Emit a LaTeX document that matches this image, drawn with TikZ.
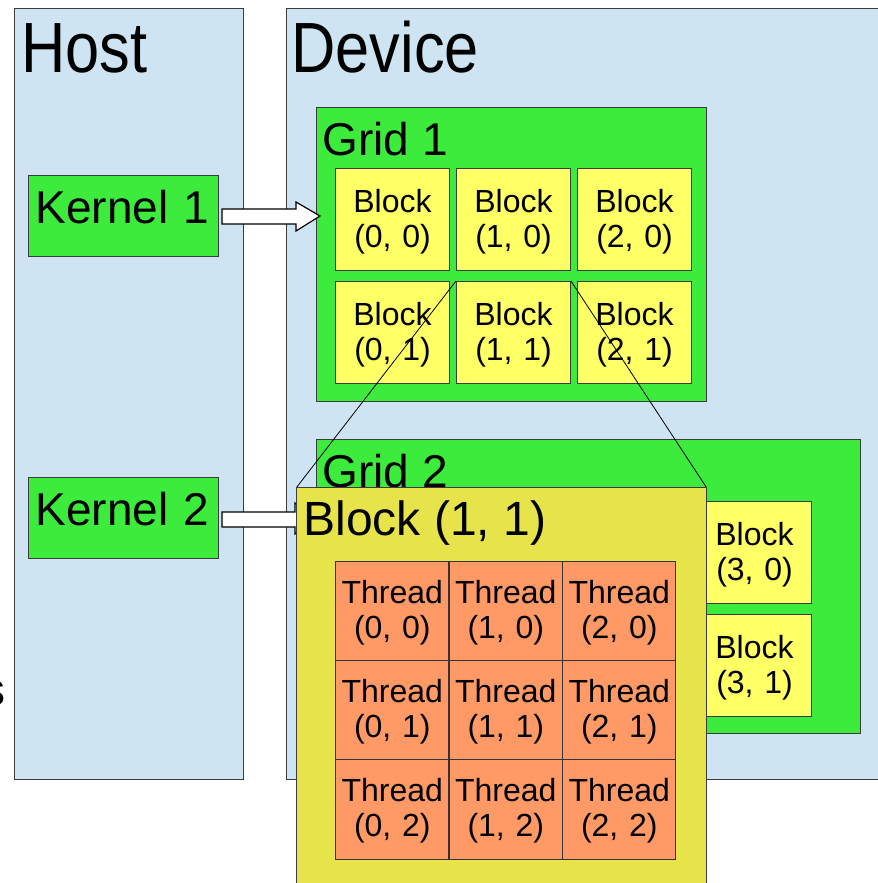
\documentclass[tikz,border=0pt]{standalone}
\usepackage{fontspec}
\setmainfont{Liberation Sans}
\usetikzlibrary{positioning}

\definecolor{hostblue}{HTML}{CFE4F2}
\definecolor{gridgreen}{HTML}{3DEB3D}
\definecolor{blockyellow}{HTML}{FFFF66}
\definecolor{bigyellow}{HTML}{E6E34B}
\definecolor{threadorange}{HTML}{FF9966}
\definecolor{edgegray}{HTML}{3C3C3C}

\newcommand{\cellfont}{\fontsize{24}{26.25}\selectfont}
\newcommand{\bigfont}{\fontsize{34.5}{41}\selectfont}
\newcommand{\titlefont}{\fontsize{46}{56}\selectfont}
\newcommand{\tall}[1]{\scalebox{1}[1.16]{#1}}

\begin{document}
\begin{tikzpicture}[x=0.75pt, y=-0.75pt, line width=0.75pt,
        panel/.style={draw=edgegray, fill=hostblue},
        grid_box/.style={draw=edgegray, fill=gridgreen},
        kernel/.style={draw=edgegray, fill=gridgreen, inner xsep=5.25pt, inner ysep=0pt,
            text width=132pt, align=left, text height=36pt, text depth=24.75pt, font=\bigfont},
        blk/.style={draw=edgegray, fill=blockyellow, inner sep=0pt, align=center,
            text width=85.5pt, text height=33pt, text depth=43.5pt, font=\cellfont},
        big_blk/.style={draw=edgegray, fill=bigyellow, inner sep=0pt,
            minimum width=306.75pt, minimum height=309pt},
        thread/.style={draw=black!80, fill=threadorange, inner sep=0pt, align=center,
            text width=85.1pt, text height=31.5pt, text depth=43.5pt, font=\cellfont},
        label_text/.style={anchor=base west, inner sep=0pt, font=\bigfont},
        title_text/.style={anchor=base west, inner sep=0pt, font=\titlefont},
        arrow_style/.style={draw=black, fill=white, line width=0.9pt, line join=miter},
        edge_style/.style={draw=black, line width=0.6pt}]
        \useasboundingbox (0,0) rectangle (878,883);

        % host and device
        \draw[panel] (14,8) rectangle (243,779);
        \draw[panel] (286,8) rectangle (884,779);
        \node[title_text] (host) at (21,72) {\tall{Host}};
        \node[title_text] (device) at (291,72) {\tall{Device}};
        \node[anchor=base east, inner sep=0pt, font=\bigfont] (cut) at (6,705) {s};

        \node[kernel, anchor=north west] (k1) at (28,175) {Kernel 1};
        \node[kernel, anchor=north west] (k2) at (28,477) {Kernel 2};

        % grid 1
        \draw[grid_box] (316,107) rectangle (706,401);
        \node[label_text] (g1) at (322,155) {Grid 1};
        \foreach \col in {0,1,2}
          \foreach \row in {0,1}
            \node[blk, anchor=north west] (blk\col\row) at (335+121*\col, 168+113*\row) {Block\\(\col, \row)};

        % grid 2
        \draw[grid_box] (316,439) rectangle (860,733);
        \node[label_text] (g2) at (322,487) {Grid 2};
        \node[blk, anchor=north west] (blk30) at (697,501) {Block\\(3, 0)};
        \node[blk, anchor=north west] (blk31) at (697,614) {Block\\(3, 1)};

        % kernel arrows
        \draw[arrow_style] (k1.east) ++(3,-7) -- ++(74,0) -- ++(0,-7) -- ++(24,14)
            -- ++(-24,15) -- ++(0,-7) -- ++(-74,0) -- cycle;
        \draw[arrow_style] (k2.east) ++(3,-6) -- ++(73,0) -- ++(0,-9) -- ++(24,16)
            -- ++(-24,15) -- ++(0,-7) -- ++(-73,0) -- cycle;

        % block (1, 1) zoomed
        \node[big_blk] (big) at (501.5,694) {};
        \draw[edge_style] (blk11.north west) -- (big.north west);
        \draw[edge_style] (blk11.north east) -- (big.north east);
        \fill[bigyellow] (big.north west) ++(0.5,0.5) rectangle (big.south east);
        \draw[draw=edgegray] (big.south west) -- (big.north west) -- (big.north east) -- (big.south east);
        \node[label_text, font=\fontsize{36}{42}\selectfont] (bigl) at (303,535) {Block (1, 1)};
        \foreach \col in {0,1,2}
          \foreach \row in {0,1,2}
            \node[thread, anchor=north west] (th\col\row) at (335+113.5*\col, 561+99*\row) {Thread\\(\col, \row)};
      \end{tikzpicture}
\end{document}
